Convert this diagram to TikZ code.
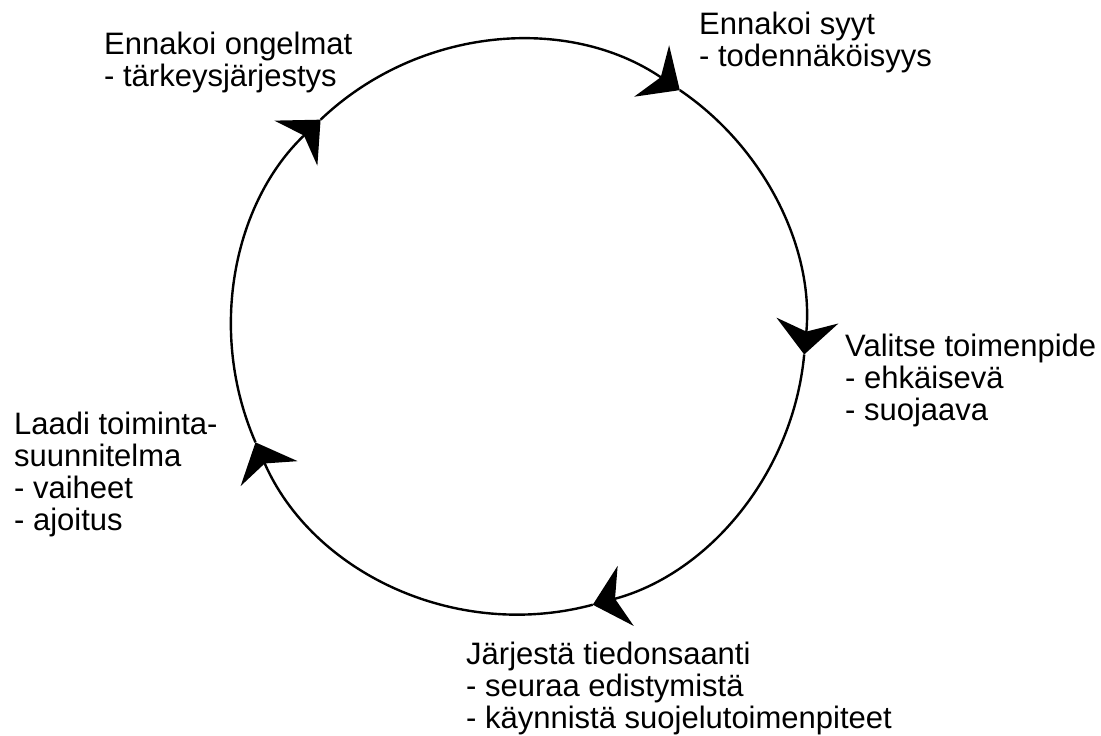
\documentclass[tikz,border=0pt]{standalone}
\usepackage{fontspec}
\setmainfont{Liberation Sans}
\usetikzlibrary{arrows.meta}

\begin{document}
\begin{tikzpicture}[x=1pt, y=1pt,
    kierto/.style={line width=2.4pt, -{Stealth[length=34pt, width=62pt, inset=11pt]}},
    vaihe/.style={anchor=base west, align=left, inner sep=0pt, font=\fontsize{31}{32}\selectfont}]
    \useasboundingbox (0,0) rectangle (1101,736);
    \coordinate (keski) at (518.5,408.5);
    % vaiheiden tekstit (ankkuri = viimeisen rivin perusviiva)
    \node[vaihe] (ongelmat) at (104,649) {Ennakoi ongelmat\\- tärkeysjärjestys};
    \node[vaihe] (syyt) at (699,669) {Ennakoi syyt\\- todennäköisyys};
    \node[vaihe] (toimenpide) at (845,315) {Valitse toimenpide\\- ehkäisevä\\- suojaava};
    \node[vaihe] (tiedonsaanti) at (466,7) {Järjestä tiedonsaanti\\- seuraa edistymistä\\- käynnistä suojelutoimenpiteet};
    \node[vaihe] (suunnitelma) at (14,205) {Laadi toiminta-\\suunnitelma\\- vaiheet\\- ajoitus};
    % kehä myötäpäivään
    \foreach \a/\b in {203.6/133.6, 133.6/55.8, 55.8/-5.4, -5.4/-75, -75/-156.4}
        \draw[kierto] (keski) ++(\a:287) arc[start angle=\a, end angle=\b, radius=287];
\end{tikzpicture}
\end{document}
